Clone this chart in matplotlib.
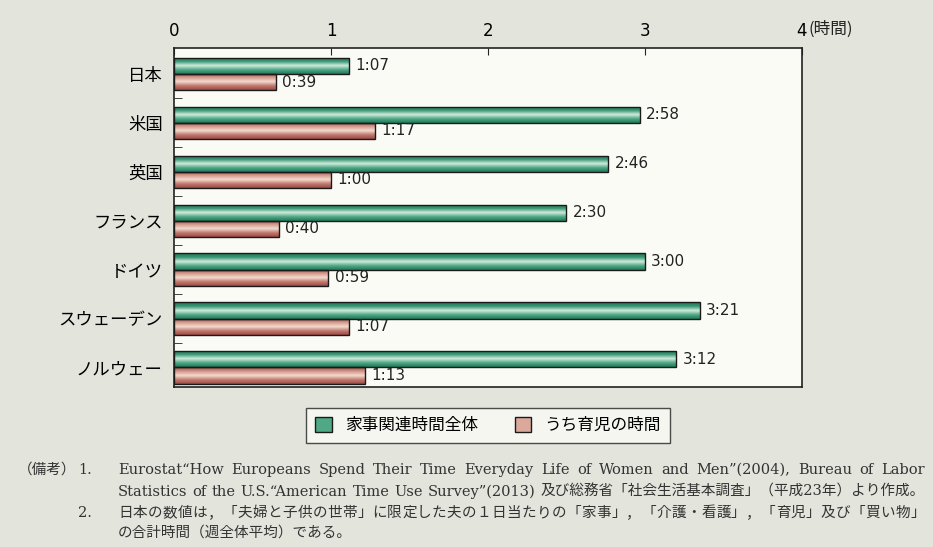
import matplotlib.pyplot as plt
import numpy as np
from matplotlib.colors import LinearSegmentedColormap
from matplotlib.patches import Patch

plt.rcParams['font.family'] = ['Noto Sans CJK JP', 'DejaVu Sans']

countries = ["日本", "米国", "英国", "フランス", "ドイツ", "スウェーデン", "ノルウェー"]
total_minutes = [67, 178, 166, 150, 180, 201, 192]   # 家事関連時間全体
child_minutes = [39, 77, 60, 40, 59, 67, 73]         # うち育児の時間
series_names = ["家事関連時間全体", "うち育児の時間"]
x_ticks = [0, 1, 2, 3, 4]

notes = [
    "Eurostat\u201cHow Europeans Spend Their Time Everyday Life of Women and Men\u201d(2004), Bureau of Labor",
    "Statistics of the U.S.\u201cAmerican Time Use Survey\u201d(2013) 及び総務省「社会生活基本調査」（平成23年）より作成。",
    "日本の数値は，「夫婦と子供の世帯」に限定した夫の１日当たりの「家事」，「介護・看護」，「育児」及び「買い物」",
    "の合計時間（週全体平均）である。",
]

def hm(m):
    return f"{m // 60}:{m % 60:02d}"

W, H = 933, 547
fig = plt.figure(figsize=(W / 100, H / 100), dpi=100)
fig.patch.set_facecolor("#e3e4dc")
ax = fig.add_axes([0.1865, 0.2925, 0.673, 0.6197])
ax.set_facecolor("#fbfbf6")

y = np.arange(len(countries))
h = 0.33
tot = np.array(total_minutes) / 60
chi = np.array(child_minutes) / 60

green_grad = ["#1d7556", "#3a9877", "#d3ebdc", "#4fa886", "#1f7a5a"]
red_grad = ["#9e4e48", "#d49a8c", "#f3dcd0", "#c27a70", "#9c4a44"]

def grad_bars(bars, colors):
    cmap = LinearSegmentedColormap.from_list("g", colors)
    g = np.linspace(0, 1, 64).reshape(-1, 1)
    for b in bars:
        x0, y0 = b.get_x(), b.get_y()
        w, hh = b.get_width(), b.get_height()
        im = ax.imshow(g, cmap=cmap, aspect="auto",
                       extent=(x0, x0 + w, y0 + hh, y0), zorder=2)
        im.set_clip_path(b)

b1 = ax.barh(y - h / 2, tot, height=h, facecolor="none", edgecolor="#1a1a1a", lw=1.0, zorder=3)
b2 = ax.barh(y + h / 2, chi, height=h, facecolor="none", edgecolor="#1a1a1a", lw=1.0, zorder=3)
grad_bars(b1, green_grad)
grad_bars(b2, red_grad)

for i in range(len(countries)):
    ax.text(tot[i] + 0.04, y[i] - h / 2, hm(total_minutes[i]), va="center", ha="left",
            fontsize=11, family="DejaVu Sans", color="#222")
    ax.text(chi[i] + 0.04, y[i] + h / 2, hm(child_minutes[i]), va="center", ha="left",
            fontsize=11, family="DejaVu Sans", color="#222")

ax.set_xlim(0, 4)
ax.set_ylim(6.4, -0.53)
ax.xaxis.tick_top()
ax.set_xticks(x_ticks)
ax.set_xticklabels([str(t) for t in x_ticks], fontsize=12, family="DejaVu Sans")
ax.tick_params(axis="x", direction="in", length=5, pad=6, color="#222")
ax.text(4.04, 1.03, "(時間)", transform=ax.get_xaxis_transform(), fontsize=12,
        ha="left", va="bottom", color="#222")
ax.set_yticks(y)
ax.set_yticklabels(countries, fontsize=12.5)
ax.tick_params(axis="y", length=0, pad=8)
ax.set_yticks(y[:-1] + 0.5, minor=True)
ax.tick_params(axis="y", which="minor", direction="in", length=6, color="#222")
for s in ax.spines.values():
    s.set_color("#222")
    s.set_linewidth(1.2)

handles = [Patch(facecolor="#4fa886", edgecolor="#1a1a1a", label=series_names[0]),
           Patch(facecolor="#dba89c", edgecolor="#1a1a1a", label=series_names[1])]
leg = fig.legend(handles=handles, loc="center", bbox_to_anchor=(0.523, 0.222), ncol=2,
                 fontsize=12, frameon=True, fancybox=False, edgecolor="#222",
                 handlelength=1.0, handleheight=1.0, columnspacing=2.2, borderpad=0.55)
leg.get_frame().set_facecolor("#fbfbf6")
leg.get_frame().set_linewidth(1.0)

# footnote, justified between pixel columns like the printed page
note_font = dict(fontsize=10.5, color="#333", va="center", ha="left",
                 family=["DejaVu Serif", "Noto Sans CJK JP"])
renderer = fig.canvas.get_renderer()

def put_line(s, x0, x1, ypix):
    tokens = s.split(" ") if " " in s else list(s)
    texts = [fig.text(0, 1 - ypix / H, t, **note_font) for t in tokens]
    widths = [t.get_window_extent(renderer).width for t in texts]
    gap = (x1 - x0 - sum(widths)) / max(len(tokens) - 1, 1)
    x = x0
    for t, w in zip(texts, widths):
        t.set_x(x / W)
        x += w + gap

fig.text(18 / W, 1 - 470 / H, "（備考）", **note_font)
fig.text(78 / W, 1 - 470 / H, "1.", **note_font)
fig.text(78 / W, 1 - 513 / H, "2.", **note_font)
put_line(notes[0], 118, 925, 470)
put_line(notes[1], 118, 925, 492)
put_line(notes[2], 118, 925, 513)
fig.text(118 / W, 1 - 533 / H, notes[3], **note_font)

fig.savefig("out.png", dpi=100, facecolor=fig.get_facecolor())
